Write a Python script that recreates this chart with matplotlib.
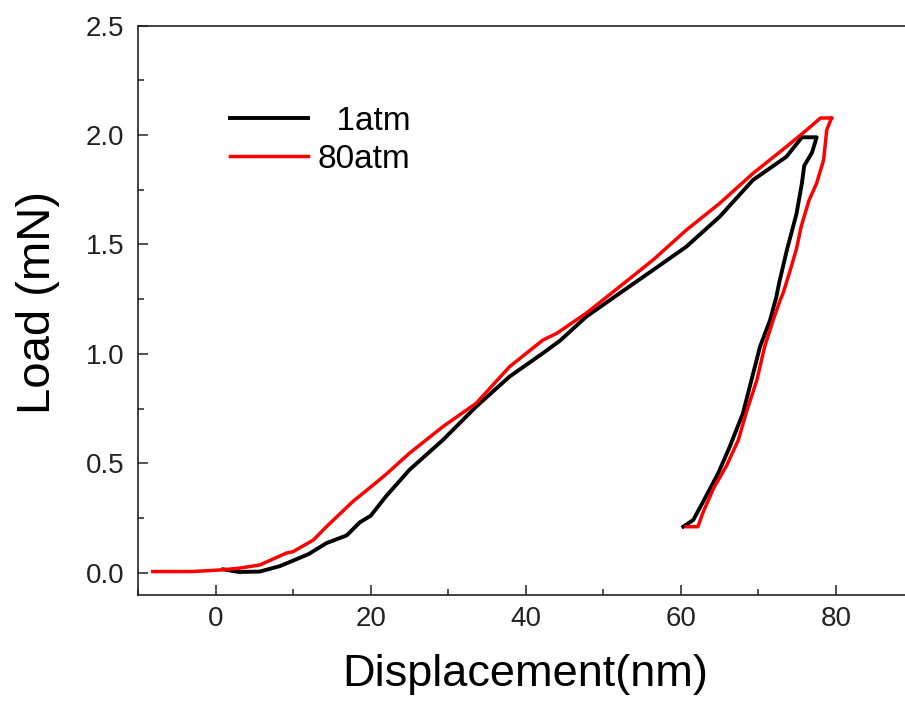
#!/usr/bin/env python3

import matplotlib
matplotlib.use('Agg')
import matplotlib.pyplot as plt
from matplotlib.ticker import MultipleLocator

plt.rcParams['font.family'] = ['Liberation Sans', 'DejaVu Sans']

##################################################################

# 1 atm: loading, hold, unloading
disp_1atm = [1.0, 3.0, 5.7, 8.3, 10.0, 12.0, 14.3, 16.9, 18.6, 20.0, 22.0, 25.0,
             29.3, 33.6, 37.9, 42.2, 44.4, 47.8, 52.1, 56.4, 60.7, 65.0, 69.3,
             73.6, 75.6, 77.5,
             76.9, 75.9, 75.6, 74.9, 73.7, 72.7, 72.3, 71.5, 70.2, 69.1, 68.0,
             66.3, 64.8, 63.1, 61.6, 60.3]
load_1atm = [0.015, 0.003, 0.005, 0.03, 0.055, 0.085, 0.135, 0.17, 0.23, 0.26, 0.35, 0.47,
             0.606, 0.759, 0.896, 1.003, 1.06, 1.17, 1.277, 1.383, 1.49, 1.627, 1.795,
             1.901, 1.99, 1.99,
             1.92, 1.86, 1.78, 1.64, 1.48, 1.33, 1.26, 1.155, 1.033, 0.881, 0.729,
             0.576, 0.454, 0.34, 0.241, 0.21]

# 80 atm
disp_80atm = [-8.1, -3.0, 0.5, 3.0, 5.7, 9.1, 10.0, 12.6, 14.3, 17.7, 20.3, 22.0,
              25.0, 29.3, 33.6, 37.9, 42.2, 44.0, 47.8, 52.1, 56.4, 60.7, 65.0,
              69.3, 73.6, 76.2, 78.0, 79.5,
              79.4, 78.8, 78.4, 77.5, 76.5, 75.5, 74.9, 74.1, 73.2, 72.8, 71.9,
              70.8, 69.8, 68.5, 67.4, 65.9, 64.2, 62.8, 62.2, 60.7]
load_80atm = [0.005, 0.005, 0.012, 0.02, 0.035, 0.089, 0.096, 0.149, 0.21, 0.325, 0.4, 0.45,
              0.546, 0.667, 0.774, 0.941, 1.063, 1.094, 1.186, 1.307, 1.429, 1.566, 1.688,
              1.825, 1.947, 2.023, 2.078, 2.078,
              2.077, 2.023, 1.886, 1.78, 1.70, 1.581, 1.48, 1.383, 1.28, 1.246, 1.155,
              1.033, 0.881, 0.74, 0.606, 0.49, 0.385, 0.271, 0.21, 0.21]

labels = ['  1atm', '80atm']

##################################################################

fig = plt.figure(figsize=(9.05, 7.02), dpi=100)
ax = fig.add_axes([0.1525, 0.1531, 0.857, 0.8103])

ax.plot(disp_1atm, load_1atm, color='black', lw=2.8, label=labels[0])
ax.plot(disp_80atm, load_80atm, color='#ff0000', lw=2.5, label=labels[1])

ax.set_xlim(-10, 90)
ax.set_ylim(-0.1, 2.5)

ax.xaxis.set_major_locator(MultipleLocator(20))
ax.xaxis.set_minor_locator(MultipleLocator(10))
ax.yaxis.set_major_locator(MultipleLocator(0.5))
ax.yaxis.set_minor_locator(MultipleLocator(0.25))
ax.yaxis.set_major_formatter(plt.FormatStrFormatter('%.1f'))

ax.tick_params(which='both', direction='in', width=1.1, colors='#222222')
ax.tick_params(which='major', length=7.5, labelsize=20)
ax.tick_params(axis='x', which='major', pad=8.5)
ax.tick_params(axis='y', which='major', pad=10)
ax.tick_params(which='minor', length=4)
for s in ax.spines.values():
    s.set_linewidth(1.2)
    s.set_color('#222222')

ax.set_xlabel("Displacement(nm)", fontsize=32.5)
ax.set_ylabel("Load (mN)", fontsize=34)
ax.xaxis.set_label_coords(0.499, -0.104)
ax.yaxis.set_label_coords(-0.10, 0.514)

ax.legend(loc='upper left', bbox_to_anchor=(0.254, 0.849), bbox_transform=fig.transFigure,
          frameon=False, fontsize=24, handlelength=2.34, handletextpad=0.3,
          labelspacing=0.2, borderpad=0, borderaxespad=0)

fig.savefig("out.png", dpi=100)
